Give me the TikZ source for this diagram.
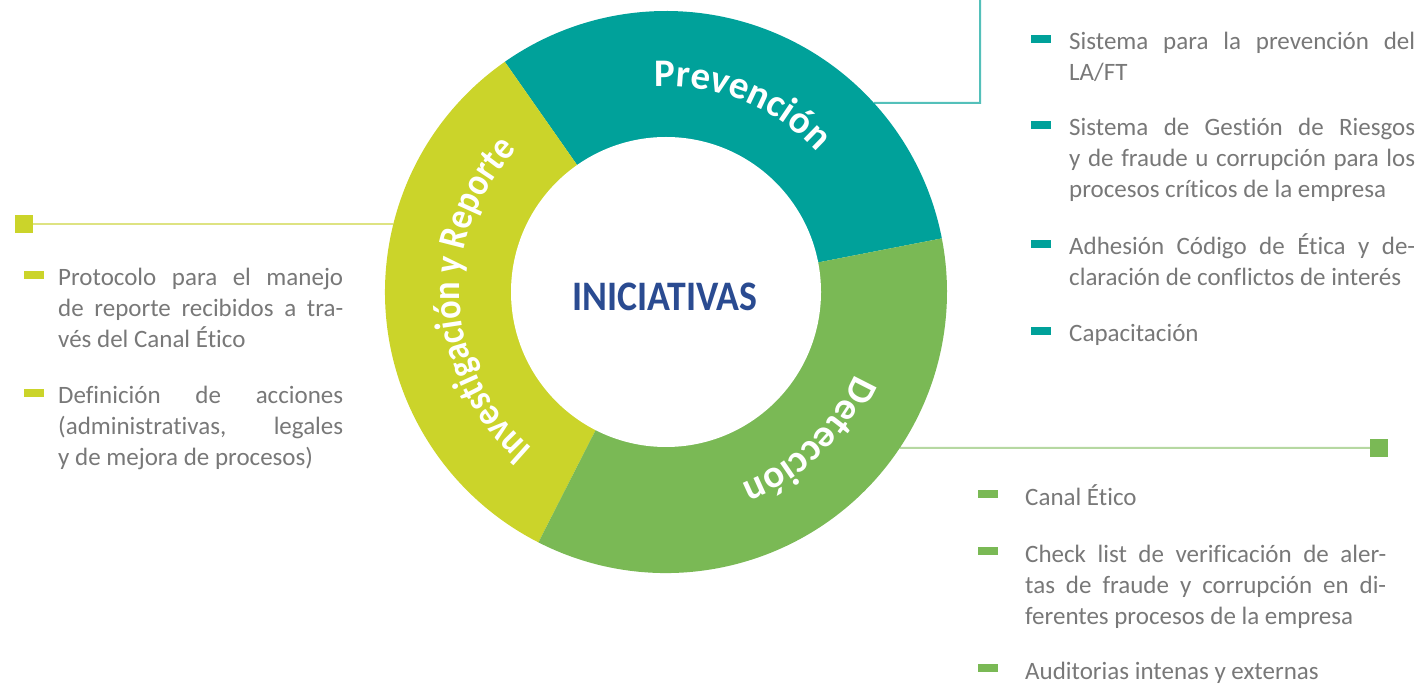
\documentclass[tikz,border=0pt]{standalone}
\usepackage{fontspec}
\setmainfont{Carlito}[Ligatures=NoCommon]
\usetikzlibrary{positioning}
\usetikzlibrary{calc}
\usetikzlibrary{decorations.text}

\definecolor{prevteal}{RGB}{0,161,154}
\definecolor{invyellow}{RGB}{203,212,42}
\definecolor{detgreen}{RGB}{122,185,85}
\definecolor{prevline}{RGB}{84,192,186}
\definecolor{invline}{RGB}{222,227,130}
\definecolor{detline}{RGB}{182,216,162}
\definecolor{textgray}{RGB}{120,120,120}
\definecolor{inicblue}{RGB}{42,75,145}

\newcommand{\listfont}{\fontsize{25}{31}\selectfont}
\newcommand{\ringfont}{\fontsize{39}{39}\selectfont\bfseries}
\newcommand{\ringnarrow}{\ringfont\addfontfeature{FakeStretch=0.88}}

\begin{document}
\begin{tikzpicture}[x=1pt, y=1pt,
bulletmark/.style={rectangle, fill=#1, minimum width=20pt, minimum height=8pt, inner sep=0pt},
squaremark/.style={rectangle, fill=#1, minimum size=18pt, inner sep=0pt},
itemtext/.style={anchor=base west, text width=#1, align=justify, inner sep=0pt, font=\listfont, text=textgray},
linkline/.style={draw=#1, line width=2pt},
ringlabel/.style={decorate, decoration={text along path, text align=center, text color=white}},
]
\useasboundingbox (0,0) rectangle (1421,683);

%Nodes
\coordinate (c) at (666,391);
\coordinate (prev_port) at ($(c)+(42.3:281pt)$);
\coordinate (inv_port)  at ($(c)+(166:281pt)$);
\coordinate (det_port)  at ($(c)+(-33.7:281pt)$);
\coordinate (prev_corner) at (980,580);
\coordinate (prev_top)    at (980,683);

\node[squaremark=invyellow] at (24,459)   (inv_square) [] {};
\node[squaremark=detgreen]  at (1379,235) (det_square) [] {};

%Lines
\draw[linkline=prevline] (prev_port) -- (prev_corner) -- (prev_top);
\draw[linkline=invline, line width=1.8pt] (inv_square.east) -- (inv_port);
\draw[linkline=detline] (det_port) -- (det_square.west);

%Ring
\fill[prevteal]  (c) -- ($(c)+(11:281pt)$)  arc[start angle=11,  end angle=125, radius=281pt] -- cycle;
\fill[invyellow] (c) -- ($(c)+(125:281pt)$) arc[start angle=125, end angle=243, radius=281pt] -- cycle;
\fill[detgreen]  (c) -- ($(c)+(243:281pt)$) arc[start angle=243, end angle=371, radius=281pt] -- cycle;
\fill[white] (c) circle[radius=155pt];

\path[ringlabel, decoration={text={|\ringfont|Prevención}}]
  ($(c)+(100:206pt)$) arc[start angle=100, end angle=36, radius=206pt];
\path[ringlabel, decoration={text={|\ringfont|Detección}}]
  ($(c)+(-12:206pt)$) arc[start angle=-12, end angle=-80, radius=206pt];
\path[ringlabel, decoration={text={|\ringnarrow|Investigación y Reporte}}]
  ($(c)+(235:206pt)$) arc[start angle=235, end angle=131, radius=206pt];

\node[font=\fontsize{42}{42}\selectfont\bfseries, text=inicblue] at (665,386) (iniciativas) {\scalebox{0.9}[1]{INICIATIVAS}};

% Prevencion items
\node[bulletmark=prevteal] at (1041,644) (mark_prev1) [] {};
\node[itemtext=346pt]      at (1069,633) (text_prev1) [] {Sistema para la prevención del\linebreak LA/FT};
\node[bulletmark=prevteal] at (1041,558) (mark_prev2) [] {};
\node[itemtext=346pt]      at (1069,547) (text_prev2) [] {Sistema de Gestión de Riesgos\linebreak y de fraude u corrupción para los\linebreak procesos críticos de la empresa};
\node[bulletmark=prevteal] at (1041,439) (mark_prev3) [] {};
\node[itemtext=346pt]      at (1069,428) (text_prev3) [] {Adhesión Código de Ética y de-\linebreak claración de conflictos de interés};
\node[bulletmark=prevteal] at (1041,352) (mark_prev4) [] {};
\node[itemtext=346pt]      at (1069,341) (text_prev4) [] {Capacitación};

% Deteccion items
\node[bulletmark=detgreen] at (988,189) (mark_det1) [] {};
\node[itemtext=361pt]      at (1025,178) (text_det1) [] {Canal Ético};
\node[bulletmark=detgreen] at (988,132) (mark_det2) [] {};
\node[itemtext=361pt]      at (1025,121) (text_det2) [] {Check list de verificación de aler-\linebreak tas de fraude y corrupción en di-\linebreak ferentes procesos de la empresa};
\node[bulletmark=detgreen] at (988,15)  (mark_det3) [] {};
\node[itemtext=361pt]      at (1025,4)   (text_det3) [] {Auditorias intenas y externas};

% Investigacion items
\node[bulletmark=invyellow] at (34,408) (mark_inv1) [] {};
\node[itemtext=285pt]       at (58,397) (text_inv1) [] {Protocolo para el manejo\linebreak de reporte recibidos a tra-\linebreak vés del Canal Ético};
\node[bulletmark=invyellow] at (34,290) (mark_inv2) [] {};
\node[itemtext=285pt]       at (58,279) (text_inv2) [] {Definición de acciones\linebreak (administrativas, legales\linebreak y de mejora de procesos)};

\end{tikzpicture}
\end{document}
